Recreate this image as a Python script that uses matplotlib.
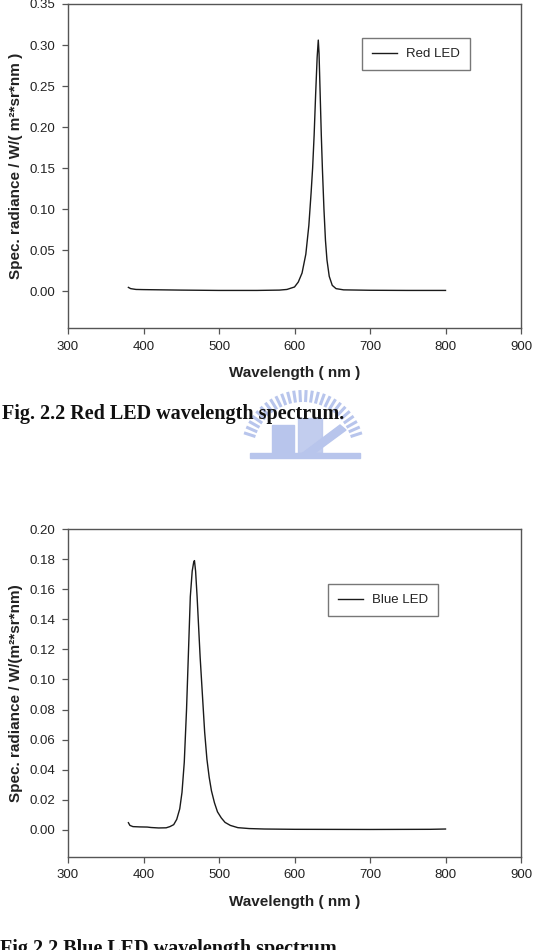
import matplotlib
matplotlib.use("Agg")
import matplotlib.pyplot as plt
from matplotlib.patches import Rectangle, Polygon
import numpy as np

# ---------------- data ----------------
red_nm = [380, 383, 390, 400, 450, 500, 550, 580, 590, 600, 605, 610, 615, 619,
          622, 624, 626, 628, 630, 631.5, 632.5, 634, 635.5, 637, 639, 641, 643,
          646, 650, 655, 665, 700, 750, 800]
red_val = [0.0045, 0.003, 0.002, 0.0018, 0.0012, 0.0008, 0.0008, 0.0012, 0.002,
           0.005, 0.011, 0.022, 0.045, 0.080, 0.120, 0.150, 0.190, 0.240, 0.285,
           0.306, 0.290, 0.240, 0.190, 0.148, 0.100, 0.062, 0.038, 0.018, 0.007,
           0.003, 0.0015, 0.001, 0.0008, 0.0008]

blue_nm = [380, 382, 386, 395, 405, 410, 420, 430, 435, 440, 444, 448, 451, 454,
           457, 460, 462, 464.5, 466.5, 467.5, 469, 471, 473, 475, 478, 481, 484,
           487, 490, 494, 498, 503, 508, 515, 525, 540, 560, 600, 700, 780, 800]
blue_val = [0.0048, 0.003, 0.0022, 0.0020, 0.0019, 0.0016, 0.0013, 0.0014, 0.0022,
            0.0035, 0.007, 0.014, 0.025, 0.045, 0.080, 0.125, 0.155, 0.172, 0.178,
            0.179, 0.172, 0.155, 0.135, 0.115, 0.090, 0.065, 0.047, 0.035, 0.026,
            0.018, 0.012, 0.008, 0.005, 0.003, 0.0015, 0.0009, 0.0006, 0.0004,
            0.0003, 0.0004, 0.0006]

x_ticks = [300, 400, 500, 600, 700, 800, 900]
red_yticks = [0.00, 0.05, 0.10, 0.15, 0.20, 0.25, 0.30, 0.35]
blue_yticks = [0.00, 0.02, 0.04, 0.06, 0.08, 0.10, 0.12, 0.14, 0.16, 0.18, 0.20]

red_label = "Red LED"
blue_label = "Blue LED"
red_ylabel = "Spec. radiance / W/( m\u00b2*sr*nm )"
blue_ylabel = "Spec. radiance / W/(m\u00b2*sr*nm)"
xlabel = "Wavelength ( nm )"
cap1 = "Fig. 2.2 Red LED wavelength spectrum."
cap2 = "Fig 2.2 Blue LED wavelength spectrum."

# ---------------- figure ----------------
plt.rcParams['font.family'] = ['Liberation Sans', 'DejaVu Sans']
W, H = 537, 950
fig = plt.figure(figsize=(W / 100, H / 100), dpi=100)
fig.patch.set_facecolor('white')

FRAME = '#555555'
TXT = '#222222'


def px_rect(l, t, r, b):
    return [l / W, 1 - b / H, (r - l) / W, (b - t) / H]


def style(ax, yticks, ylim, ylabel, label, x, y, legloc):
    ax.plot(x, y, color='#1a1a1a', lw=1.0, label=label)
    ax.set_xlim(300, 900)
    ax.set_ylim(*ylim)
    ax.set_xticks(x_ticks)
    ax.set_yticks(yticks)
    ax.set_xticklabels([str(v) for v in x_ticks])
    ax.set_yticklabels(["%.2f" % v for v in yticks])
    for s in ax.spines.values():
        s.set_color(FRAME)
        s.set_linewidth(1.0)
    ax.tick_params(direction='out', length=4, width=0.9, color=FRAME,
                   labelsize=9.5, labelcolor=TXT, pad=5)
    ax.set_xlabel(xlabel, fontsize=11, fontweight='bold', color=TXT, labelpad=10)
    ax.set_ylabel(ylabel, fontsize=11, fontweight='bold', color=TXT, labelpad=5)
    leg = ax.legend(loc='upper left', bbox_to_anchor=legloc, fontsize=9.5,
                    frameon=True, fancybox=False, borderaxespad=0,
                    handlelength=1.9, handletextpad=0.7, borderpad=0.75)
    leg.get_frame().set_edgecolor(FRAME)
    leg.get_frame().set_linewidth(1.0)
    for t in leg.get_texts():
        t.set_color(TXT)


ax1 = fig.add_axes(px_rect(68, 4, 521, 328))
style(ax1, red_yticks, (-0.045, 0.35), red_ylabel, red_label, red_nm, red_val,
      (0.649, 0.895))

ax2 = fig.add_axes(px_rect(68, 529, 521, 857))
style(ax2, blue_yticks, (-0.018, 0.20), blue_ylabel, blue_label, blue_nm, blue_val,
      (0.574, 0.832))

# ---------------- faint watermark emblem ----------------
wm = fig.add_axes([0, 0, 1, 1], zorder=-1)
wm.set_xlim(0, W)
wm.set_ylim(H, 0)
wm.axis('off')
LB = '#b8c5ec'
cx, cy = 303, 452
for ang in np.linspace(18, 162, 26):
    a = np.deg2rad(ang)
    r1, r2 = 50, 62
    wm.plot([cx + r1 * np.cos(a), cx + r2 * np.cos(a)],
            [cy - r1 * np.sin(a), cy - r2 * np.sin(a)],
            color=LB, lw=2.2, solid_capstyle='butt')
wm.add_patch(Rectangle((272, 425), 22, 28, color=LB))
wm.add_patch(Rectangle((298, 418), 24, 35, color=LB, alpha=0.85))
wm.add_patch(Polygon([[250, 453], [360, 453], [360, 458], [250, 458]], color=LB))
wm.add_patch(Polygon([[300, 455], [340, 425], [346, 430], [308, 458]], color=LB))

# ---------------- captions ----------------
fig.text(2 / W, 1 - 414 / H, cap1, fontsize=14.5, fontweight='bold',
         family=['Liberation Serif', 'DejaVu Serif'], color='#111111',
         va='center', ha='left')
fig.text(0 / W, 1 - 939 / H, cap2, fontsize=14.5, fontweight='bold',
         family=['Liberation Serif', 'DejaVu Serif'], color='#111111',
         va='top', ha='left')

fig.savefig('out.png', dpi=100, facecolor='white')
